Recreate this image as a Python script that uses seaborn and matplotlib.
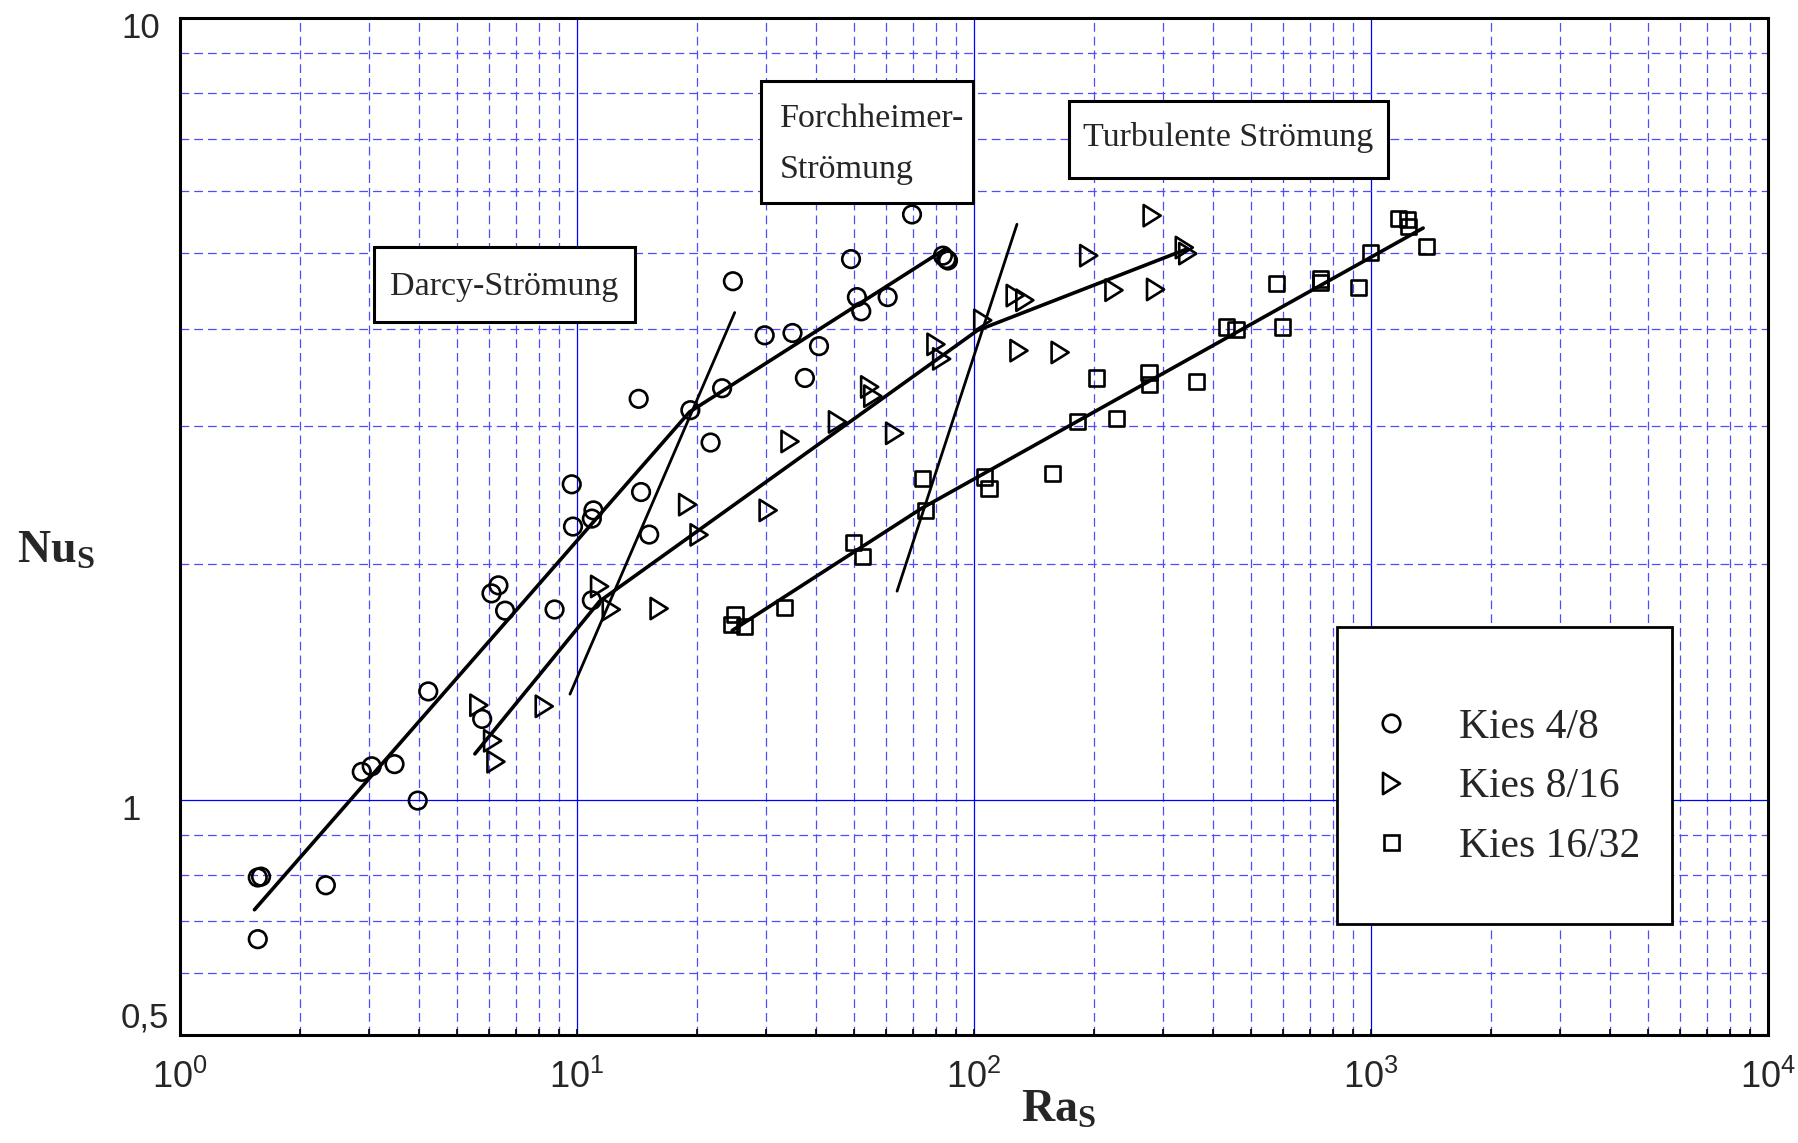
import numpy as np
import pandas as pd
import matplotlib
matplotlib.use("Agg")
import matplotlib.pyplot as plt
import seaborn as sns
from matplotlib.path import Path
from matplotlib.markers import MarkerStyle
from matplotlib.lines import Line2D
from matplotlib.patches import Rectangle
from matplotlib.ticker import FixedLocator, NullFormatter
from matplotlib.transforms import ScaledTranslation
from matplotlib.font_manager import FontProperties

# ---------------- measured data: Ra_S vs Nu_S ----------------
ra_kies_4_8 = [1.57, 1.60, 1.57, 2.33, 2.87, 3.04, 3.47, 3.97, 4.22, 5.77,
               6.09, 6.34, 6.59, 8.78, 9.70, 9.77, 10.9, 11.0, 10.9, 14.3,
               14.5, 15.2, 19.3, 21.7, 23.2, 24.7, 29.7, 34.9, 37.5, 40.7,
               49.0, 50.7, 52.0, 60.6, 69.8, 83.5, 85.2, 86.0]
nu_kies_4_8 = [0.795, 0.797, 0.663, 0.777, 1.085, 1.103, 1.110, 0.997, 1.375, 1.268,
               1.835, 1.879, 1.744, 1.750, 2.530, 2.234, 2.287, 2.343, 1.798, 3.254,
               2.473, 2.182, 3.147, 2.861, 3.357, 4.600, 3.923, 3.950, 3.460, 3.800,
               4.910, 4.390, 4.210, 4.390, 5.600, 4.960, 4.910, 4.890]

ra_kies_8_16 = [5.66, 6.13, 6.25, 8.27, 11.4, 12.2, 16.1, 19.0, 20.3, 30.3,
                34.4, 45.3, 54.6, 55.6, 63.1, 80.2, 82.9, 105.2, 129.8, 127.0,
                134.3, 164.8, 194.5, 225.2, 281.0, 286.6, 338.6, 345.5]
nu_kies_8_16 = [1.320, 1.189, 1.118, 1.316, 1.873, 1.750, 1.755, 2.383, 2.180, 2.343,
                2.870, 3.040, 3.370, 3.280, 2.940, 3.820, 3.660, 4.100, 3.750, 4.410,
                4.350, 3.730, 4.960, 4.480, 5.580, 4.490, 5.080, 4.990]

ra_kies_16_32 = [25.0, 24.5, 26.4, 33.3, 49.8, 52.4, 74.1, 75.3, 106.2, 109.1,
                 157.4, 182.0, 204.0, 228.5, 276.0, 277.3, 364.3, 433.5, 457.0, 597.0,
                 577.0, 748.0, 748.0, 932.0, 997.0, 1170.0, 1233.0, 1242.0, 1380.0]
nu_kies_16_32 = [1.726, 1.675, 1.663, 1.762, 2.130, 2.046, 2.575, 2.343, 2.585, 2.498,
                 2.610, 3.040, 3.460, 3.070, 3.520, 3.390, 3.425, 4.020, 3.990, 4.020,
                 4.570, 4.630, 4.580, 4.520, 5.010, 5.540, 5.510, 5.400, 5.090]

# regression lines (piecewise in log-log space)
fit_4_8_ra = [1.54, 19.2, 85.2]
fit_4_8_nu = [0.723, 3.13, 5.07]
fit_8_16_ra = [5.53, 11.4, 102.0, 341.0]
fit_8_16_nu = [1.144, 1.793, 3.98, 5.05]
fit_16_32_ra = [24.6, 73.8, 1353.0]
fit_16_32_nu = [1.645, 2.357, 5.38]

# regime boundaries
bound_darcy_ra = [9.60, 24.96]
bound_darcy_nu = [1.364, 4.195]
bound_turb_ra = [64.0, 128.3]
bound_turb_nu = [1.847, 5.44]

series_labels = ["Kies 4/8", "Kies 8/16", "Kies 16/32"]
regime_darcy = "Darcy-Strömung"
regime_forch = ["Forchheimer-", "Strömung"]
regime_turb = "Turbulente Strömung"

x_tick_values = [1, 10, 100, 1000, 10000]
x_tick_labels = [r"$\mathregular{10^{0}}$", r"$\mathregular{10^{1}}$", r"$\mathregular{10^{2}}$",
                 r"$\mathregular{10^{3}}$", r"$\mathregular{10^{4}}$"]
y_tick_values = [0.5, 1, 10]
y_tick_labels = ["0,5", "1", "10"]

# ---------------- style ----------------
sns.set_style("white")
plt.rcParams["font.family"] = ["Liberation Sans", "DejaVu Sans"]
plt.rcParams["mathtext.fontset"] = "custom"

W, H = 1798, 1143
fig = plt.figure(figsize=(W / 100, H / 100), dpi=100)


def fx(px):
    return px / W


def fy(py):
    return 1 - py / H


ax = fig.add_axes([fx(180), fy(1035), (1768 - 180) / W, (1035 - 17.5) / H])
ax.set_xscale("log")
ax.set_yscale("log")
ax.set_xlim(1, 10000)
ax.set_ylim(0.5, 10)

# grid
ax.set_axisbelow(True)
ax.xaxis.set_minor_locator(FixedLocator([k * 10.0 ** d for d in range(4) for k in range(2, 10)]))
ax.yaxis.set_minor_locator(FixedLocator([0.6, 0.7, 0.8, 0.9] + list(range(2, 10))))
ax.xaxis.set_minor_formatter(NullFormatter())
ax.yaxis.set_minor_formatter(NullFormatter())
ax.grid(True, which="major", color="#0000ff", lw=0.9, ls="-")
ax.grid(True, which="minor", color="#4d4dff", lw=0.9, ls=(0, (7, 4)))

for sp in ax.spines.values():
    sp.set_linewidth(2.2)
    sp.set_color("black")

# regression and boundary lines
line_kw = dict(color="black", estimator=None, sort=False, ax=ax, legend=False)
sns.lineplot(x=fit_4_8_ra, y=fit_4_8_nu, linewidth=2.6, zorder=2, **line_kw)
sns.lineplot(x=fit_8_16_ra, y=fit_8_16_nu, linewidth=2.6, zorder=2, **line_kw)
sns.lineplot(x=fit_16_32_ra, y=fit_16_32_nu, linewidth=2.6, zorder=2, **line_kw)
sns.lineplot(x=bound_darcy_ra, y=bound_darcy_nu, linewidth=2.0, zorder=2, **line_kw)
sns.lineplot(x=bound_turb_ra, y=bound_turb_nu, linewidth=2.0, zorder=2, **line_kw)

# markers
tri_marker = MarkerStyle(Path([(-0.8, 1.0), (0.8, 0.0), (-0.8, -1.0), (-0.8, 1.0)],
                              [Path.MOVETO, Path.LINETO, Path.LINETO, Path.CLOSEPOLY]))
pt_kw = dict(facecolor="none", edgecolor="black", linewidth=1.9, ax=ax, legend=False, zorder=3)
sns.scatterplot(x=ra_kies_4_8, y=nu_kies_4_8, marker="o", s=160, **pt_kw)
sns.scatterplot(x=ra_kies_8_16, y=nu_kies_8_16, marker=tri_marker, s=235, **pt_kw)
sns.scatterplot(x=ra_kies_16_32, y=nu_kies_16_32, marker="s", s=118, **pt_kw)

ax.set_xlim(1, 10000)
ax.set_ylim(0.5, 10)

# ticks
ax.set_xticks(x_tick_values)
ax.set_xticklabels(x_tick_labels, fontfamily="Liberation Sans", fontsize=26)
ax.set_yticks(y_tick_values)
ax.set_yticklabels(y_tick_labels, fontfamily="Liberation Sans", fontsize=25)
ax.tick_params(axis="x", which="both", direction="in", length=4, width=1.2,
               color="black", pad=18, bottom=True, top=False)
ax.tick_params(axis="y", which="both", length=0, pad=42.5, left=True, right=False)
ax.set_xlabel("")
ax.set_ylabel("")

# axis titles
fig.text(fx(17), fy(563), r"$\mathregular{Nu_S}$", fontfamily="Liberation Serif",
         fontweight="bold", fontsize=33, ha="left", va="baseline")
fig.text(fx(1021), fy(1122), r"$\mathregular{Ra_S}$", fontfamily="Liberation Serif",
         fontweight="bold", fontsize=33, ha="left", va="baseline")


# regime boxes
def box(x0, y0, x1, y1, lw=2.2):
    r = Rectangle((fx(x0), fy(y1)), (x1 - x0) / W, (y1 - y0) / H, transform=fig.transFigure,
                  facecolor="white", edgecolor="black", linewidth=lw, zorder=4)
    ax.add_patch(r)


serif = dict(fontfamily="Liberation Serif", fontsize=24.5, transform=fig.transFigure, zorder=6)
box(374, 247, 635, 322)
ax.text(fx(504.5), fy(295), regime_darcy, ha="center", va="baseline", **serif)
box(761, 81, 973, 203)
ax.text(fx(780), fy(126.7), regime_forch[0], ha="left", va="baseline", **serif)
ax.text(fx(780), fy(178), regime_forch[1], ha="left", va="baseline", **serif)
box(1069, 101, 1388, 178)
ax.text(fx(1228.5), fy(145.7), regime_turb, ha="center", va="baseline", **serif)

# legend
box(1337, 627, 1672, 924, lw=2.0)
handles = [
    Line2D([], [], ls="none", marker="o", markersize=12.6, mfc="none", mec="black", mew=1.9),
    Line2D([], [], ls="none", marker=tri_marker, markersize=15.3, mfc="none", mec="black", mew=1.9),
    Line2D([], [], ls="none", marker="s", markersize=10.8, mfc="none", mec="black", mew=1.9),
]
leg = ax.legend(handles, series_labels, loc="center left",
                bbox_to_anchor=(fx(1366), fy(787)), bbox_transform=fig.transFigure,
                frameon=False, borderpad=0, borderaxespad=0, handlelength=1.2,
                handletextpad=1.04, labelspacing=0.5,
                prop=FontProperties(family="Liberation Serif", size=30))
leg.set_zorder(7)

# y tick label placement: left-aligned block, bottom label sits inside the axis range
fig.canvas.draw()
for val, lab in zip(y_tick_values, ax.get_yticklabels()):
    lab.set_ha("left")
    if val == 0.5:
        lab.set_va("bottom")
    else:
        lab.set_transform(lab.get_transform() + ScaledTranslation(0, -0.07, fig.dpi_scale_trans))

fig.savefig("out.png", dpi=100)
